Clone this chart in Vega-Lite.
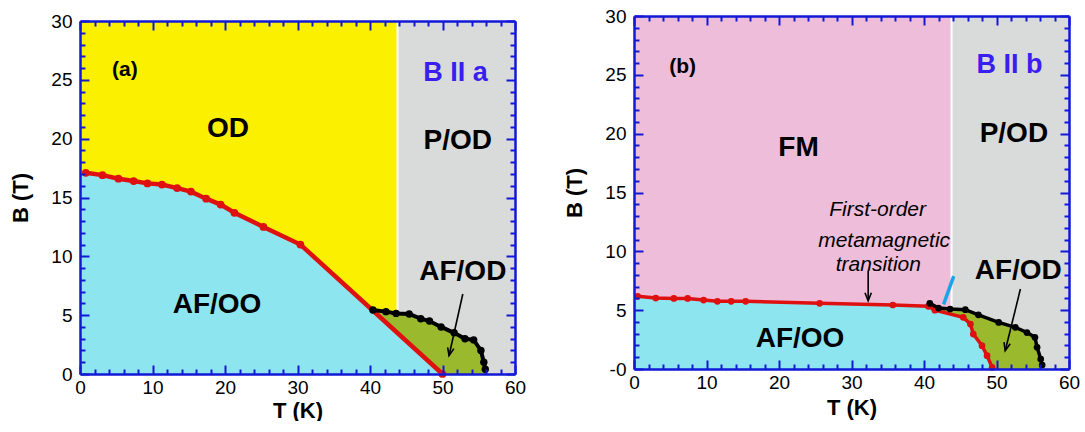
{
  "$schema": "https://vega.github.io/schema/vega-lite/v6.json",
  "background": "white",
  "padding": {"left": 9, "top": 7, "right": 0, "bottom": 0},
  "spacing": 37,
  "resolve": {"scale": {"color": "independent"}},
  "config": {
    "view": {"stroke": null},
    "font": "Liberation Sans",
    "axis": {"grid": false}
  },
  "datasets": {
    "aRegion": [
      {"region": "OD", "t0": 0, "t1": 43.8, "b0": 0, "b1": 30},
      {"region": "P/OD", "t0": 43.8, "t1": 60, "b0": 0, "b1": 30}
    ],
    "aCyan": [
      {"t": 0, "b": 17.4}, {"t": 0.8, "b": 17.1}, {"t": 3.1, "b": 16.9}, {"t": 5.3, "b": 16.6},
      {"t": 7.4, "b": 16.4}, {"t": 9.3, "b": 16.2}, {"t": 11.3, "b": 16.1}, {"t": 13.4, "b": 15.8},
      {"t": 15.3, "b": 15.5}, {"t": 17.4, "b": 14.9}, {"t": 19.4, "b": 14.4}, {"t": 21.3, "b": 13.7},
      {"t": 25.3, "b": 12.5}, {"t": 30.4, "b": 11.0}, {"t": 50, "b": 0}
    ],
    "aRed": [
      {"t": 0.8, "b": 17.1}, {"t": 3.1, "b": 16.9}, {"t": 5.3, "b": 16.6}, {"t": 7.4, "b": 16.4},
      {"t": 9.3, "b": 16.2}, {"t": 11.3, "b": 16.1}, {"t": 13.4, "b": 15.8}, {"t": 15.3, "b": 15.5},
      {"t": 17.4, "b": 14.9}, {"t": 19.4, "b": 14.4}, {"t": 21.3, "b": 13.7}, {"t": 25.3, "b": 12.5},
      {"t": 30.4, "b": 11.0}, {"t": 50, "b": 0}
    ],
    "aBlack": [
      {"t": 40.4, "b": 5.44}, {"t": 42.2, "b": 5.3}, {"t": 43.6, "b": 5.15}, {"t": 45.4, "b": 5.1},
      {"t": 47.0, "b": 4.7}, {"t": 48.2, "b": 4.5}, {"t": 49.8, "b": 4.0}, {"t": 51.6, "b": 3.5},
      {"t": 53.1, "b": 3.0}, {"t": 54.3, "b": 2.9}, {"t": 55.3, "b": 2.0}, {"t": 55.7, "b": 1.0},
      {"t": 55.9, "b": 0.4}
    ],
    "aGreen": [
      {"k": 1, "t": 40.4, "b": 5.44}, {"k": 2, "t": 42.2, "b": 5.3}, {"k": 3, "t": 43.6, "b": 5.15},
      {"k": 4, "t": 45.4, "b": 5.1}, {"k": 5, "t": 47.0, "b": 4.7}, {"k": 6, "t": 48.2, "b": 4.5},
      {"k": 7, "t": 49.8, "b": 4.0}, {"k": 8, "t": 51.6, "b": 3.5}, {"k": 9, "t": 53.1, "b": 3.0},
      {"k": 10, "t": 54.3, "b": 2.9}, {"k": 11, "t": 55.3, "b": 2.0}, {"k": 12, "t": 55.7, "b": 1.0},
      {"k": 13, "t": 55.9, "b": 0.4}, {"k": 14, "t": 56.0, "b": 0}, {"k": 15, "t": 50, "b": 0}
    ],
    "aDivide": [{"t": 43.8, "b0": 5.15, "b1": 30}],
    "aTag": [{"t": 6.2, "b": 25.8, "label": "(a)"}],
    "aPhase": [
      {"t": 20.4, "b": 20.8, "label": "OD"},
      {"t": 52.1, "b": 19.8, "label": "P/OD"},
      {"t": 52.8, "b": 8.7, "label": "AF/OD"},
      {"t": 18.9, "b": 5.9, "label": "AF/OO"}
    ],
    "aField": [{"t": 51.8, "b": 25.6, "label": "B II a"}],
    "aArrow": [{"t": 52.8, "b": 6.8, "t2": 50.9, "b2": 1.55}],
    "bRegion": [
      {"region": "FM", "t0": 0, "t1": 43.8, "b0": 0, "b1": 30},
      {"region": "P/OD", "t0": 43.8, "t1": 60, "b0": 0, "b1": 30}
    ],
    "bCyan": [
      {"t": 0, "b": 6.25}, {"t": 0.5, "b": 6.18}, {"t": 3.0, "b": 6.03}, {"t": 5.5, "b": 6.0},
      {"t": 7.4, "b": 6.0}, {"t": 9.6, "b": 5.86}, {"t": 11.5, "b": 5.75}, {"t": 13.4, "b": 5.75},
      {"t": 15.4, "b": 5.75}, {"t": 25.6, "b": 5.58}, {"t": 35.7, "b": 5.44}, {"t": 40.6, "b": 5.33},
      {"t": 41.5, "b": 5.0}, {"t": 45.4, "b": 4.39}, {"t": 46.4, "b": 3.82}, {"t": 46.8, "b": 2.97},
      {"t": 48.0, "b": 1.98}, {"t": 48.7, "b": 1.13}, {"t": 49.4, "b": 0.14}
    ],
    "bRed": [
      {"t": 0.5, "b": 6.18}, {"t": 3.0, "b": 6.03}, {"t": 5.5, "b": 6.0}, {"t": 7.4, "b": 6.0},
      {"t": 9.6, "b": 5.86}, {"t": 11.5, "b": 5.75}, {"t": 13.4, "b": 5.75}, {"t": 15.4, "b": 5.75},
      {"t": 25.6, "b": 5.58}, {"t": 35.7, "b": 5.44}, {"t": 40.6, "b": 5.33}, {"t": 41.5, "b": 5.0},
      {"t": 45.4, "b": 4.39}, {"t": 46.4, "b": 3.82}, {"t": 46.8, "b": 2.97}, {"t": 48.0, "b": 1.98},
      {"t": 48.7, "b": 1.13}, {"t": 49.4, "b": 0.14}
    ],
    "bBlack": [
      {"t": 40.8, "b": 5.58}, {"t": 42.0, "b": 5.18}, {"t": 43.6, "b": 5.1}, {"t": 45.7, "b": 5.04},
      {"t": 47.5, "b": 4.6}, {"t": 50.3, "b": 3.96}, {"t": 52.6, "b": 3.54}, {"t": 54.2, "b": 3.1},
      {"t": 55.3, "b": 2.7}, {"t": 55.6, "b": 1.84}, {"t": 56.1, "b": 0.85}, {"t": 56.3, "b": 0.34}
    ],
    "bGreen": [
      {"k": 1, "t": 40.8, "b": 5.58}, {"k": 2, "t": 42.0, "b": 5.18}, {"k": 3, "t": 43.6, "b": 5.1},
      {"k": 4, "t": 45.7, "b": 5.04}, {"k": 5, "t": 47.5, "b": 4.6}, {"k": 6, "t": 50.3, "b": 3.96},
      {"k": 7, "t": 52.6, "b": 3.54}, {"k": 8, "t": 54.2, "b": 3.1}, {"k": 9, "t": 55.3, "b": 2.7},
      {"k": 10, "t": 55.6, "b": 1.84}, {"k": 11, "t": 56.1, "b": 0.85}, {"k": 12, "t": 56.3, "b": 0.34},
      {"k": 13, "t": 56.4, "b": 0}, {"k": 14, "t": 49.4, "b": 0}, {"k": 15, "t": 49.4, "b": 0.14},
      {"k": 16, "t": 48.7, "b": 1.13}, {"k": 17, "t": 48.0, "b": 1.98}, {"k": 18, "t": 46.8, "b": 2.97},
      {"k": 19, "t": 46.4, "b": 3.82}, {"k": 20, "t": 45.4, "b": 4.39}, {"k": 21, "t": 41.5, "b": 5.0}
    ],
    "bDivide": [{"t": 43.8, "b0": 5.1, "b1": 30}],
    "bJump": [{"t": 42.7, "b": 5.5, "t2": 44.1, "b2": 7.9}],
    "bTag": [{"t": 6.7, "b": 25.7, "label": "(b)"}],
    "bPhase": [
      {"t": 22.7, "b": 18.8, "label": "FM"},
      {"t": 52.4, "b": 20.0, "label": "P/OD"},
      {"t": 53.0, "b": 8.35, "label": "AF/OD"},
      {"t": 22.9, "b": 2.55, "label": "AF/OO"}
    ],
    "bField": [{"t": 51.8, "b": 25.8, "label": "B II b"}],
    "bNote": [
      {"t": 33.6, "b": 13.5, "label": "First-order"},
      {"t": 34.5, "b": 10.9, "label": "metamagnetic"},
      {"t": 33.7, "b": 8.8, "label": "transition"}
    ],
    "bArrowV": [{"t": 32.3, "b": 8.35, "t2": 32.3, "b2": 5.8}],
    "bArrowS": [{"t": 53.3, "b": 6.8, "t2": 51.2, "b2": 1.55}]
  },
  "hconcat": [
    {
      "width": 435,
      "height": 353,
      "resolve": {"axis": {"x": "independent", "y": "independent"}},
      "layer": [
        {
          "data": {"name": "aRegion"},
          "mark": {"type": "rect"},
          "encoding": {
            "x": {"field": "t0", "type": "quantitative", "scale": {"domain": [0, 60], "nice": false, "zero": false},
              "axis": {"orient": "bottom", "values": [0, 10, 20, 30, 40, 50, 60], "ticks": false, "domain": false,
                "labelPadding": 4, "labelFontSize": 19, "labelColor": "#000000", "labelFlush": false, "labelOverlap": false,
                "title": "T (K)", "titleFontSize": 22, "titleFontWeight": "bold", "titleColor": "#000000", "titlePadding": 3, "zindex": 1}},
            "x2": {"field": "t1"},
            "y": {"field": "b0", "type": "quantitative", "scale": {"domain": [0, 30], "nice": false, "zero": false},
              "axis": {"orient": "left", "values": [0, 5, 10, 15, 20, 25, 30], "ticks": false, "domain": false,
                "labelPadding": 8, "labelFontSize": 19, "labelColor": "#000000", "labelFlush": false, "labelOverlap": false,
                "title": "B (T)", "titleFontSize": 22, "titleFontWeight": "bold", "titleColor": "#000000", "titlePadding": 18, "zindex": 1}},
            "y2": {"field": "b1"},
            "color": {"field": "region", "type": "nominal", "scale": {"domain": ["OD", "P/OD"], "range": ["#FAF000", "#D9DADA"]}, "legend": null}
          }
        },
        {
          "data": {"name": "aCyan"},
          "mark": {"type": "area", "color": "#8DE6EF"},
          "encoding": {
            "x": {"field": "t", "type": "quantitative",
              "axis": {"orient": "bottom", "values": [0, 2, 4, 6, 8, 10, 12, 14, 16, 18, 20, 22, 24, 26, 28, 30, 32, 34, 36, 38, 40, 42, 44, 46, 48, 50, 52, 54, 56, 58, 60],
                "labels": false, "title": null, "tickColor": "#1219D6", "tickWidth": 2,
                "tickSize": {"condition": {"test": "datum.value % 10 === 0", "value": -9}, "value": -5},
                "domainColor": "#1219D6", "domainWidth": 2.5, "zindex": 1}},
            "y": {"field": "b", "type": "quantitative",
              "axis": {"orient": "left", "values": [0, 1, 2, 3, 4, 5, 6, 7, 8, 9, 10, 11, 12, 13, 14, 15, 16, 17, 18, 19, 20, 21, 22, 23, 24, 25, 26, 27, 28, 29, 30],
                "labels": false, "title": null, "tickColor": "#1219D6", "tickWidth": 2,
                "tickSize": {"condition": {"test": "datum.value % 5 === 0", "value": -9}, "value": -5},
                "domainColor": "#1219D6", "domainWidth": 2.5, "zindex": 1}},
            "y2": {"datum": 0}
          }
        },
        {
          "data": {"name": "aGreen"},
          "mark": {"type": "line", "fill": "#9BB92C", "strokeWidth": 0},
          "encoding": {
            "x": {"field": "t", "type": "quantitative",
              "axis": {"orient": "top", "values": [0, 2, 4, 6, 8, 10, 12, 14, 16, 18, 20, 22, 24, 26, 28, 30, 32, 34, 36, 38, 40, 42, 44, 46, 48, 50, 52, 54, 56, 58, 60],
                "labels": false, "title": null, "tickColor": "#1219D6", "tickWidth": 2,
                "tickSize": {"condition": {"test": "datum.value % 10 === 0", "value": -9}, "value": -5},
                "domainColor": "#1219D6", "domainWidth": 2.5, "zindex": 1}},
            "y": {"field": "b", "type": "quantitative",
              "axis": {"orient": "right", "values": [0, 1, 2, 3, 4, 5, 6, 7, 8, 9, 10, 11, 12, 13, 14, 15, 16, 17, 18, 19, 20, 21, 22, 23, 24, 25, 26, 27, 28, 29, 30],
                "labels": false, "title": null, "tickColor": "#1219D6", "tickWidth": 2,
                "tickSize": {"condition": {"test": "datum.value % 5 === 0", "value": -9}, "value": -5},
                "domainColor": "#1219D6", "domainWidth": 2.5, "zindex": 1}},
            "order": {"field": "k", "type": "quantitative"}
          }
        },
        {
          "data": {"name": "aDivide"},
          "mark": {"type": "rule", "color": "#FFFFFF", "strokeWidth": 2},
          "encoding": {
            "x": {"field": "t", "type": "quantitative", "axis": null},
            "y": {"field": "b0", "type": "quantitative", "axis": null},
            "y2": {"field": "b1"}
          }
        },
        {
          "data": {"name": "aRed"},
          "mark": {"type": "line", "color": "#DE1010", "strokeWidth": 4.5, "point": {"filled": true, "size": 60, "color": "#DE1010"}},
          "encoding": {
            "x": {"field": "t", "type": "quantitative", "axis": null},
            "y": {"field": "b", "type": "quantitative", "axis": null}
          }
        },
        {
          "data": {"name": "aBlack"},
          "mark": {"type": "line", "color": "#000000", "strokeWidth": 4, "point": {"filled": true, "size": 55, "color": "#000000"}},
          "encoding": {
            "x": {"field": "t", "type": "quantitative", "axis": null},
            "y": {"field": "b", "type": "quantitative", "axis": null}
          }
        },
        {
          "data": {"name": "aTag"},
          "mark": {"type": "text", "fontSize": 21, "fontWeight": "bold", "color": "#000000", "align": "center", "baseline": "middle"},
          "encoding": {
            "x": {"field": "t", "type": "quantitative", "axis": null},
            "y": {"field": "b", "type": "quantitative", "axis": null},
            "text": {"field": "label"}
          }
        },
        {
          "data": {"name": "aPhase"},
          "mark": {"type": "text", "fontSize": 28, "fontWeight": "bold", "color": "#000000", "align": "center", "baseline": "middle"},
          "encoding": {
            "x": {"field": "t", "type": "quantitative", "axis": null},
            "y": {"field": "b", "type": "quantitative", "axis": null},
            "text": {"field": "label"}
          }
        },
        {
          "data": {"name": "aField"},
          "mark": {"type": "text", "fontSize": 27, "fontWeight": "bold", "color": "#3A1EF0", "align": "center", "baseline": "middle"},
          "encoding": {
            "x": {"field": "t", "type": "quantitative", "axis": null},
            "y": {"field": "b", "type": "quantitative", "axis": null},
            "text": {"field": "label"}
          }
        },
        {
          "data": {"name": "aArrow"},
          "mark": {"type": "rule", "color": "#000000", "strokeWidth": 1.6},
          "encoding": {
            "x": {"field": "t", "type": "quantitative", "axis": null},
            "y": {"field": "b", "type": "quantitative", "axis": null},
            "x2": {"field": "t2"},
            "y2": {"field": "b2"}
          }
        },
        {
          "data": {"name": "aArrow"},
          "mark": {"type": "point", "shape": "M -0.8 2 L 0 0 L 0.8 2", "size": 64, "filled": false, "stroke": "#000000", "strokeWidth": 1.6, "angle": 192.6, "opacity": 1},
          "encoding": {
            "x": {"field": "t2", "type": "quantitative", "axis": null},
            "y": {"field": "b2", "type": "quantitative", "axis": null}
          }
        }
      ]
    },
    {
      "width": 435,
      "height": 353,
      "resolve": {"axis": {"x": "independent", "y": "independent"}},
      "layer": [
        {
          "data": {"name": "bRegion"},
          "mark": {"type": "rect"},
          "encoding": {
            "x": {"field": "t0", "type": "quantitative", "scale": {"domain": [0, 60], "nice": false, "zero": false},
              "axis": {"orient": "bottom", "offset": -5, "values": [0, 10, 20, 30, 40, 50, 60], "ticks": false, "domain": false,
                "labelPadding": 4, "labelFontSize": 19, "labelColor": "#000000", "labelFlush": false, "labelOverlap": false,
                "title": "T (K)", "titleFontSize": 22, "titleFontWeight": "bold", "titleColor": "#000000", "titlePadding": 5, "zindex": 1}},
            "x2": {"field": "t1"},
            "y": {"field": "b0", "type": "quantitative", "scale": {"domain": [0, 30], "nice": false, "zero": false, "range": [348, -5]},
              "axis": {"orient": "left", "values": [0, 5, 10, 15, 20, 25, 30], "ticks": false, "domain": false,
                "labelExpr": "datum.value === 0 ? '-0' : datum.label",
                "labelPadding": 8, "labelFontSize": 19, "labelColor": "#000000", "labelFlush": false, "labelOverlap": false,
                "title": "B (T)", "titleFontSize": 22, "titleFontWeight": "bold", "titleColor": "#000000", "titlePadding": 18, "zindex": 1}},
            "y2": {"field": "b1"},
            "color": {"field": "region", "type": "nominal", "scale": {"domain": ["FM", "P/OD"], "range": ["#EEBDD9", "#D9DADA"]}, "legend": null}
          }
        },
        {
          "data": {"name": "bCyan"},
          "mark": {"type": "area", "color": "#8DE6EF"},
          "encoding": {
            "x": {"field": "t", "type": "quantitative",
              "axis": {"orient": "bottom", "offset": -5, "values": [0, 2, 4, 6, 8, 10, 12, 14, 16, 18, 20, 22, 24, 26, 28, 30, 32, 34, 36, 38, 40, 42, 44, 46, 48, 50, 52, 54, 56, 58, 60],
                "labels": false, "title": null, "tickColor": "#1219D6", "tickWidth": 2,
                "tickSize": {"condition": {"test": "datum.value % 10 === 0", "value": -9}, "value": -5},
                "domainColor": "#1219D6", "domainWidth": 2.5, "zindex": 1}},
            "y": {"field": "b", "type": "quantitative",
              "axis": {"orient": "left", "values": [0, 1, 2, 3, 4, 5, 6, 7, 8, 9, 10, 11, 12, 13, 14, 15, 16, 17, 18, 19, 20, 21, 22, 23, 24, 25, 26, 27, 28, 29, 30],
                "labels": false, "title": null, "tickColor": "#1219D6", "tickWidth": 2,
                "tickSize": {"condition": {"test": "datum.value % 5 === 0", "value": -9}, "value": -5},
                "domainColor": "#1219D6", "domainWidth": 2.5, "zindex": 1}},
            "y2": {"datum": 0}
          }
        },
        {
          "data": {"name": "bGreen"},
          "mark": {"type": "line", "fill": "#9BB92C", "strokeWidth": 0},
          "encoding": {
            "x": {"field": "t", "type": "quantitative",
              "axis": {"orient": "top", "offset": 5, "values": [0, 2, 4, 6, 8, 10, 12, 14, 16, 18, 20, 22, 24, 26, 28, 30, 32, 34, 36, 38, 40, 42, 44, 46, 48, 50, 52, 54, 56, 58, 60],
                "labels": false, "title": null, "tickColor": "#1219D6", "tickWidth": 2,
                "tickSize": {"condition": {"test": "datum.value % 10 === 0", "value": -9}, "value": -5},
                "domainColor": "#1219D6", "domainWidth": 2.5, "zindex": 1}},
            "y": {"field": "b", "type": "quantitative",
              "axis": {"orient": "right", "values": [0, 1, 2, 3, 4, 5, 6, 7, 8, 9, 10, 11, 12, 13, 14, 15, 16, 17, 18, 19, 20, 21, 22, 23, 24, 25, 26, 27, 28, 29, 30],
                "labels": false, "title": null, "tickColor": "#1219D6", "tickWidth": 2,
                "tickSize": {"condition": {"test": "datum.value % 5 === 0", "value": -9}, "value": -5},
                "domainColor": "#1219D6", "domainWidth": 2.5, "zindex": 1}},
            "order": {"field": "k", "type": "quantitative"}
          }
        },
        {
          "data": {"name": "bDivide"},
          "mark": {"type": "rule", "color": "#FFFFFF", "strokeWidth": 2},
          "encoding": {
            "x": {"field": "t", "type": "quantitative", "axis": null},
            "y": {"field": "b0", "type": "quantitative", "axis": null},
            "y2": {"field": "b1"}
          }
        },
        {
          "data": {"name": "bRed"},
          "mark": {"type": "line", "color": "#DE1010", "strokeWidth": 3.5, "point": {"filled": true, "size": 45, "color": "#DE1010"}},
          "encoding": {
            "x": {"field": "t", "type": "quantitative", "axis": null},
            "y": {"field": "b", "type": "quantitative", "axis": null}
          }
        },
        {
          "data": {"name": "bBlack"},
          "mark": {"type": "line", "color": "#000000", "strokeWidth": 3.5, "point": {"filled": true, "size": 45, "color": "#000000"}},
          "encoding": {
            "x": {"field": "t", "type": "quantitative", "axis": null},
            "y": {"field": "b", "type": "quantitative", "axis": null}
          }
        },
        {
          "data": {"name": "bJump"},
          "mark": {"type": "rule", "color": "#1AA6E6", "strokeWidth": 3.5},
          "encoding": {
            "x": {"field": "t", "type": "quantitative", "axis": null},
            "y": {"field": "b", "type": "quantitative", "axis": null},
            "x2": {"field": "t2"},
            "y2": {"field": "b2"}
          }
        },
        {
          "data": {"name": "bTag"},
          "mark": {"type": "text", "fontSize": 21, "fontWeight": "bold", "color": "#000000", "align": "center", "baseline": "middle"},
          "encoding": {
            "x": {"field": "t", "type": "quantitative", "axis": null},
            "y": {"field": "b", "type": "quantitative", "axis": null},
            "text": {"field": "label"}
          }
        },
        {
          "data": {"name": "bPhase"},
          "mark": {"type": "text", "fontSize": 28, "fontWeight": "bold", "color": "#000000", "align": "center", "baseline": "middle"},
          "encoding": {
            "x": {"field": "t", "type": "quantitative", "axis": null},
            "y": {"field": "b", "type": "quantitative", "axis": null},
            "text": {"field": "label"}
          }
        },
        {
          "data": {"name": "bField"},
          "mark": {"type": "text", "fontSize": 27, "fontWeight": "bold", "color": "#3A1EF0", "align": "center", "baseline": "middle"},
          "encoding": {
            "x": {"field": "t", "type": "quantitative", "axis": null},
            "y": {"field": "b", "type": "quantitative", "axis": null},
            "text": {"field": "label"}
          }
        },
        {
          "data": {"name": "bNote"},
          "mark": {"type": "text", "fontSize": 21, "fontStyle": "italic", "color": "#000000", "align": "center", "baseline": "middle"},
          "encoding": {
            "x": {"field": "t", "type": "quantitative", "axis": null},
            "y": {"field": "b", "type": "quantitative", "axis": null},
            "text": {"field": "label"}
          }
        },
        {
          "data": {"name": "bArrowV"},
          "mark": {"type": "rule", "color": "#000000", "strokeWidth": 1.6},
          "encoding": {
            "x": {"field": "t", "type": "quantitative", "axis": null},
            "y": {"field": "b", "type": "quantitative", "axis": null},
            "x2": {"field": "t2"},
            "y2": {"field": "b2"}
          }
        },
        {
          "data": {"name": "bArrowV"},
          "mark": {"type": "point", "shape": "M -0.8 2 L 0 0 L 0.8 2", "size": 64, "filled": false, "stroke": "#000000", "strokeWidth": 1.6, "angle": 180, "opacity": 1},
          "encoding": {
            "x": {"field": "t2", "type": "quantitative", "axis": null},
            "y": {"field": "b2", "type": "quantitative", "axis": null}
          }
        },
        {
          "data": {"name": "bArrowS"},
          "mark": {"type": "rule", "color": "#000000", "strokeWidth": 1.6},
          "encoding": {
            "x": {"field": "t", "type": "quantitative", "axis": null},
            "y": {"field": "b", "type": "quantitative", "axis": null},
            "x2": {"field": "t2"},
            "y2": {"field": "b2"}
          }
        },
        {
          "data": {"name": "bArrowS"},
          "mark": {"type": "point", "shape": "M -0.8 2 L 0 0 L 0.8 2", "size": 64, "filled": false, "stroke": "#000000", "strokeWidth": 1.6, "angle": 193.8, "opacity": 1},
          "encoding": {
            "x": {"field": "t2", "type": "quantitative", "axis": null},
            "y": {"field": "b2", "type": "quantitative", "axis": null}
          }
        }
      ]
    }
  ]
}
